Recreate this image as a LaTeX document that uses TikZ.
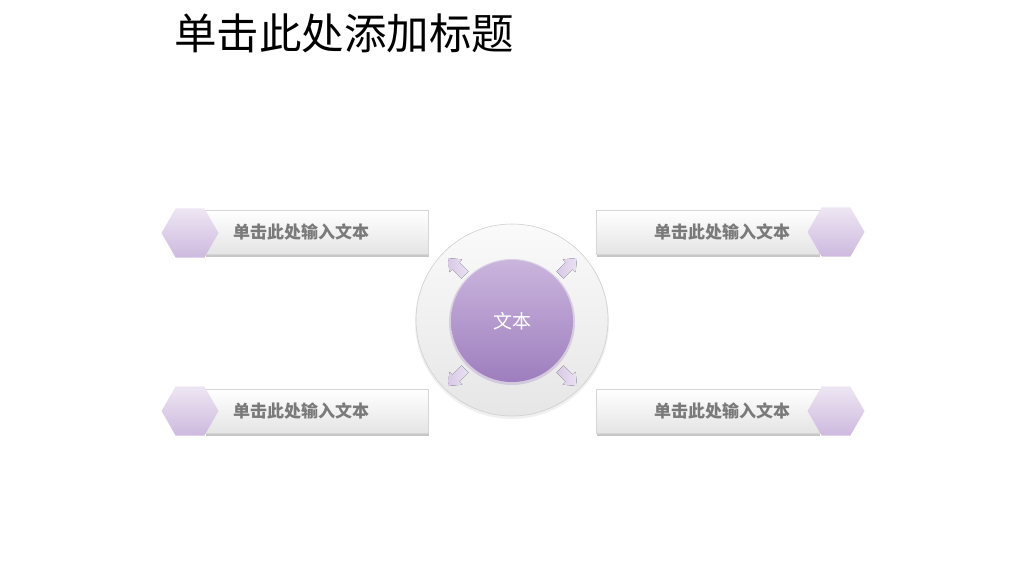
\documentclass[tikz,border=0pt]{standalone}
\usepackage{fontspec}
\setmainfont{Noto Sans CJK SC}
\newfontfamily\cjk{Noto Sans CJK SC}
\usetikzlibrary{shapes.geometric}
\definecolor{hexTop}{HTML}{EEE6F3}
\definecolor{hexBot}{HTML}{CDB9DE}
\definecolor{boxTop}{HTML}{FFFFFF}
\definecolor{boxBot}{HTML}{E4E4E4}
\definecolor{boxLine}{HTML}{D6D6D6}
\definecolor{lblGray}{HTML}{7A7A7A}
\definecolor{purTop}{HTML}{CAB5DD}
\definecolor{purBot}{HTML}{9E7EBE}
\definecolor{ringTop}{HTML}{FAFAFA}
\definecolor{ringBot}{HTML}{E6E6E6}
\definecolor{arrTop}{HTML}{EAE1F2}
\definecolor{arrBot}{HTML}{D8C9E6}
\tikzset{
  barbox/.style={rectangle, minimum width=223pt, minimum height=44pt, inner sep=0pt,
    top color=boxTop, bottom color=boxBot, draw=boxLine, line width=0.6pt},
  barshadow/.style={rectangle, minimum width=223pt, minimum height=44pt, inner sep=0pt,
    fill=black, opacity=0.22, draw=none},
  hexnode/.style={regular polygon, regular polygon sides=6, minimum size=57pt, inner sep=0pt,
    top color=hexTop, bottom color=hexBot, draw=none},
  lbl/.style={font=\cjk\bfseries\fontsize{17}{17}\selectfont, text=lblGray, inner sep=0pt},
  arrowshape/.style={left color=arrBot, right color=arrTop, draw=none},
}
\begin{document}
\begin{tikzpicture}[x=1pt, y=-1pt]
\useasboundingbox (0,0) rectangle (1024,576);
\fill[white] (0,0) rectangle (1024,576);

% title
\node[font=\cjk\fontsize{42.5}{42.5}\selectfont, anchor=west, inner sep=0pt] (title) at (174,33) {单击此处添加标题};

% bars: shadows
\node[barshadow] (s1) at (317.5,235) {};
\node[barshadow] (s2) at (317.5,414) {};
\node[barshadow] (s3) at (708.5,235) {};
\node[barshadow] (s4) at (708.5,414) {};
\node[barbox] (b1) at (316.5,232.5) {};
\node[barbox] (b2) at (316.5,411.5) {};
\node[barbox] (b3) at (707.5,232.5) {};
\node[barbox] (b4) at (707.5,411.5) {};

% hexagons
\node[hexnode] (h1) at (190,233) {};
\node[hexnode] (h2) at (190,411) {};
\node[hexnode] (h3) at (836,232) {};
\node[hexnode] (h4) at (836,411) {};

% labels
\node[lbl] (t1) at (301,232) {单击此处输入文本};
\node[lbl] (t2) at (301,411) {单击此处输入文本};
\node[lbl] (t3) at (722,232) {单击此处输入文本};
\node[lbl] (t4) at (722,411) {单击此处输入文本};

% center
\node[circle, minimum size=194pt, inner sep=0pt, fill=black, opacity=0.06] (ringsh) at (512,322) {};
\node[circle, minimum size=192pt, inner sep=0pt, top color=ringTop, bottom color=ringBot, draw=ringBot!90!black, line width=0.6pt] (ring) at (512,320) {};
\node[circle, minimum size=126pt, inner sep=0pt, fill=purBot!70!white, opacity=0.45] (coresh) at (512,322) {};
\node[circle, minimum size=122pt, inner sep=0pt, top color=purTop, bottom color=purBot, draw=none,
  font=\cjk\fontsize{19}{19}\selectfont, text=white] (core) at (512,321) {文本};

% arrows
\foreach \px/\py/\ang in {448/258/135, 577/258/45, 448/386/225, 577/386/-45}{
  \begin{scope}[shift={(\px,\py)}, rotate=\ang]
    \fill[arrowshape] (0,0) -- (-11,9) -- (-11,5) -- (-24,5) -- (-24,-5) -- (-11,-5) -- (-11,-9) -- cycle;
  \end{scope}
}
\end{tikzpicture}
\end{document}
